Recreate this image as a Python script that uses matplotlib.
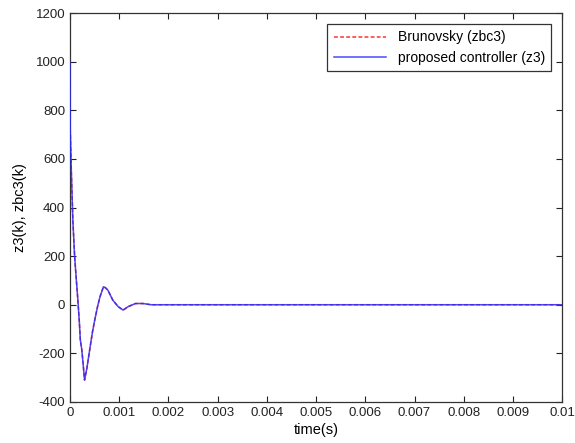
import matplotlib
matplotlib.use('Agg')
from matplotlib import pyplot as plt

# Dados
tempo = [0, 0.000005, 0.00003, 0.00006, 0.000095, 0.000127, 0.00016, 0.00019,
         0.00021, 0.00024, 0.00027, 0.000296, 0.000343, 0.00041, 0.000458,
         0.00051, 0.00056, 0.00061, 0.00068, 0.00072, 0.00077, 0.00087,
         0.00098, 0.00108, 0.00118, 0.00133, 0.00148, 0.00165, 0.0019, 0.01]
z3 = [1000, 720, 530, 340, 197, 108, 20, -70,
      -144, -185, -250, -310, -262, -173, -111,
      -56, -8, 33, 74, 70, 60, 19,
      -8, -22, -8, 5, 5, 0, 0, 0]
zbc3 = [1000, 720, 530, 340, 197, 108, 20, -70,
        -144, -185, -250, -310, -262, -173, -111,
        -56, -8, 33, 74, 70, 60, 19,
        -8, -22, -8, 5, 5, 0, 0, 0]
xticks = [0, 0.001, 0.002, 0.003, 0.004, 0.005, 0.006, 0.007, 0.008, 0.009, 0.01]
xtick_labels = ['0', '0.001', '0.002', '0.003', '0.004', '0.005',
                '0.006', '0.007', '0.008', '0.009', '0.01']
yticks = [-400, -200, 0, 200, 400, 600, 800, 1000, 1200]
ytick_labels = ['-400', '-200', '0', '200', '400', '600', '800', '1000', '1200']

plt.rcParams['font.family'] = ['Liberation Sans', 'DejaVu Sans']

fig = plt.figure(figsize=(5.75, 4.43), dpi=100)
ax = fig.add_axes([0.1217, 0.0926, 0.856, 0.878])

ax.plot(tempo, zbc3, color='#ff3030', linestyle=(0, (2.5, 1.5)), linewidth=1.1,
        label='Brunovsky (zbc3)', zorder=2)
ax.plot(tempo, z3, color='#2a2aff', linewidth=1.1, alpha=0.85,
        label='proposed controller (z3)', zorder=3)

ax.set_xlim(0, 0.01)
ax.set_ylim(-400, 1200)
ax.set_xticks(xticks)
ax.set_xticklabels(xtick_labels)
ax.set_yticks(yticks)
ax.set_yticklabels(ytick_labels)
ax.tick_params(direction='in', top=True, right=True, length=4, labelsize=9.5,
               colors='#222222')
for spine in ax.spines.values():
    spine.set_linewidth(0.9)
    spine.set_color('#333333')

ax.set_xlabel('time(s)', fontsize=10.5, labelpad=3)
ax.set_ylabel('z3(k), zbc3(k)', fontsize=10.5, labelpad=6)

leg = ax.legend(loc='upper right', fontsize=10, fancybox=False,
                edgecolor='#333333', framealpha=1, borderaxespad=0.8,
                handlelength=3.8, borderpad=0.45, labelspacing=0.45)
leg.get_frame().set_linewidth(0.9)

fig.savefig('out.png', dpi=100)
